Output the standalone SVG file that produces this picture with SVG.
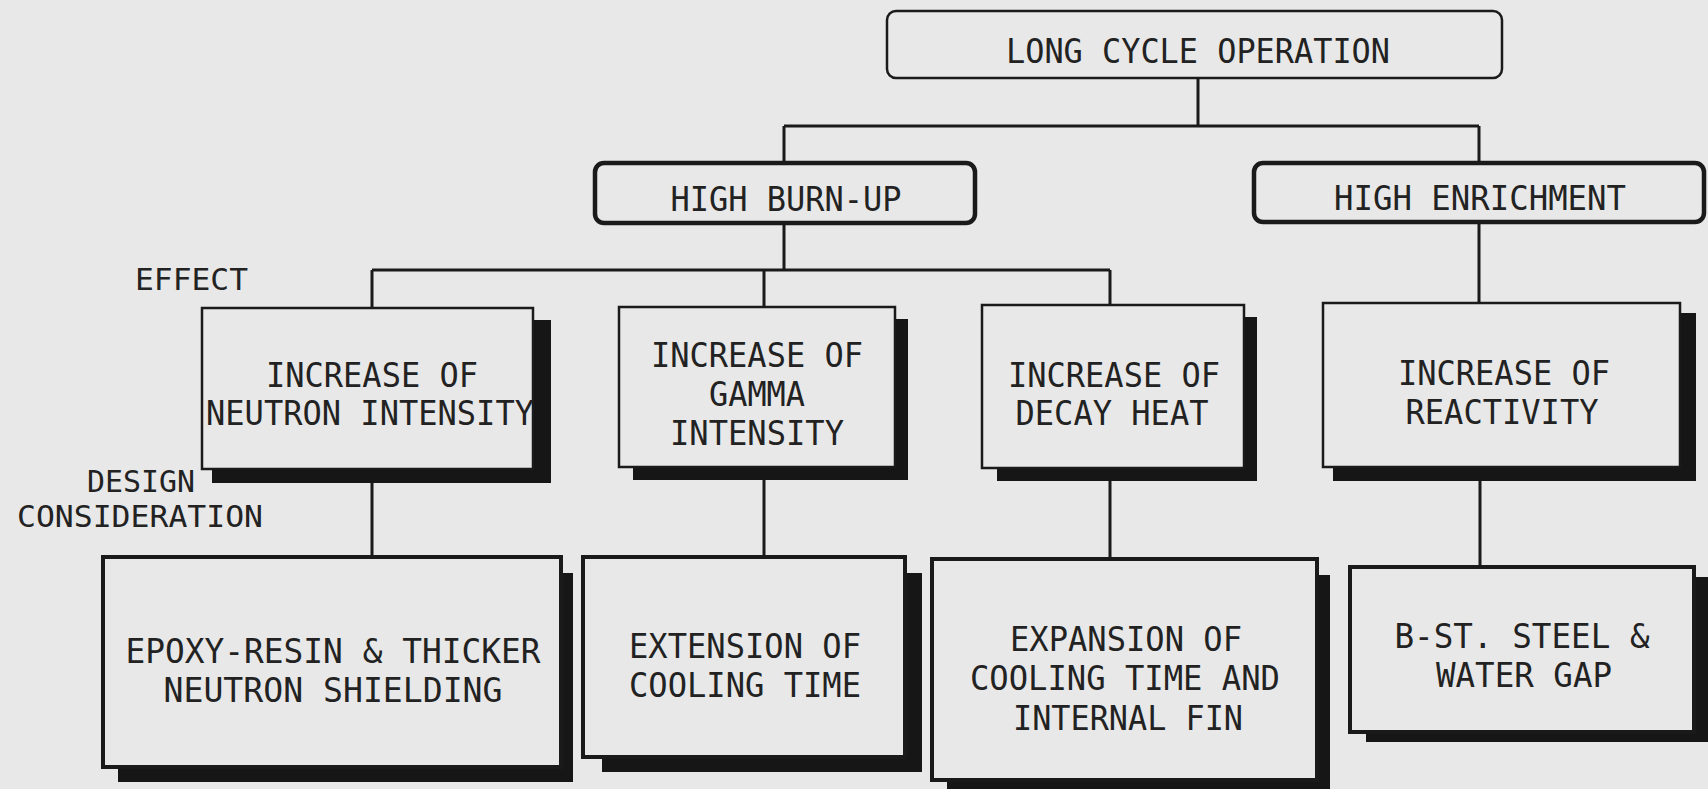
<svg xmlns="http://www.w3.org/2000/svg" width="1708" height="789" viewBox="0 0 1708 789">
<style>
.bg{fill:#e8e8e8}
.sh{fill:#161616}
.box{fill:#e8e8e8;stroke:#1a1a1a;stroke-width:2.5}
.boxb{fill:#e8e8e8;stroke:#1a1a1a;stroke-width:4}
.top{fill:#e8e8e8;stroke:#1a1a1a;stroke-width:2.5}
.mid{fill:#e8e8e8;stroke:#1a1a1a;stroke-width:4.5}
.ln{fill:none;stroke:#1a1a1a;stroke-width:3}
text{font-family:"DejaVu Sans Mono","Liberation Mono",monospace;font-size:33px;fill:#222;text-anchor:middle}
.lbl{font-size:30px;text-anchor:start}
</style>
<rect class="bg" x="0" y="0" width="1708" height="789"/>
<g id="connectors">
<path class="ln" d="M1198 78V126M784 126H1479M784 126V163M1479 126V163"/>
<path class="ln" d="M784 223V270M372 270H1110M372 270V308M764 270V307M1110 270V305"/>
<path class="ln" d="M1479 222V303"/>
<path class="ln" d="M372 483V557M764 480V557M1110 481V559M1480 481V567"/>
</g>
<g id="long-cycle">
<rect class="top" x="887" y="11" width="615" height="67" rx="9"/>
<text x="1198" y="63" font-size="38" textLength="384" lengthAdjust="spacingAndGlyphs">LONG CYCLE OPERATION</text>
</g>
<g id="high-burnup">
<rect class="mid" x="595" y="163" width="380" height="60" rx="9"/>
<text x="786" y="211" font-size="35" textLength="231" lengthAdjust="spacingAndGlyphs">HIGH BURN-UP</text>
</g>
<g id="high-enrichment">
<rect class="mid" x="1254" y="163" width="450" height="59" rx="9"/>
<text x="1480" y="210" font-size="35" textLength="292" lengthAdjust="spacingAndGlyphs">HIGH ENRICHMENT</text>
</g>
<g id="label-effect">
<text class="lbl" x="135" y="290" textLength="113" lengthAdjust="spacingAndGlyphs">EFFECT</text>
</g>
<g id="label-design">
<text class="lbl" x="87" y="492" textLength="108" lengthAdjust="spacingAndGlyphs">DESIGN</text>
<text class="lbl" x="17" y="527" textLength="246" lengthAdjust="spacingAndGlyphs">CONSIDERATION</text>
</g>
<g id="neutron-intensity">
<rect class="sh" x="212" y="320" width="339" height="163"/>
<rect class="box" x="202" y="308" width="331" height="161"/>
<text x="372" y="387" textLength="212" lengthAdjust="spacingAndGlyphs">INCREASE OF</text>
<text x="370" y="425" textLength="328" lengthAdjust="spacingAndGlyphs">NEUTRON INTENSITY</text>
</g>
<g id="gamma-intensity">
<rect class="sh" x="633" y="319" width="275" height="161"/>
<rect class="box" x="619" y="307" width="276" height="160"/>
<text x="757" y="367" textLength="212" lengthAdjust="spacingAndGlyphs">INCREASE OF</text>
<text x="757" y="406" textLength="96" lengthAdjust="spacingAndGlyphs">GAMMA</text>
<text x="757" y="445" textLength="174" lengthAdjust="spacingAndGlyphs">INTENSITY</text>
</g>
<g id="decay-heat">
<rect class="sh" x="997" y="317" width="260" height="164"/>
<rect class="box" x="982" y="305" width="262" height="163"/>
<text x="1114" y="387" textLength="212" lengthAdjust="spacingAndGlyphs">INCREASE OF</text>
<text x="1112" y="425" textLength="193" lengthAdjust="spacingAndGlyphs">DECAY HEAT</text>
</g>
<g id="reactivity">
<rect class="sh" x="1333" y="313" width="363" height="168"/>
<rect class="box" x="1323" y="303" width="357" height="164"/>
<text x="1504" y="385" textLength="212" lengthAdjust="spacingAndGlyphs">INCREASE OF</text>
<text x="1502" y="424" textLength="193" lengthAdjust="spacingAndGlyphs">REACTIVITY</text>
</g>
<g id="epoxy-resin">
<rect class="sh" x="118" y="573" width="455" height="209"/>
<rect class="boxb" x="103" y="557" width="458" height="210"/>
<text x="333" y="663" textLength="415" lengthAdjust="spacingAndGlyphs">EPOXY-RESIN &amp; THICKER</text>
<text x="333" y="702" textLength="339" lengthAdjust="spacingAndGlyphs">NEUTRON SHIELDING</text>
</g>
<g id="extension-cooling">
<rect class="sh" x="602" y="573" width="320" height="199"/>
<rect class="boxb" x="583" y="557" width="322" height="200"/>
<text x="745" y="658" textLength="232" lengthAdjust="spacingAndGlyphs">EXTENSION OF</text>
<text x="745" y="697" textLength="232" lengthAdjust="spacingAndGlyphs">COOLING TIME</text>
</g>
<g id="expansion-cooling">
<rect class="sh" x="947" y="575" width="383" height="217"/>
<rect class="boxb" x="932" y="559" width="385" height="221"/>
<text x="1126" y="651" textLength="232" lengthAdjust="spacingAndGlyphs">EXPANSION OF</text>
<text x="1125" y="690" textLength="310" lengthAdjust="spacingAndGlyphs">COOLING TIME AND</text>
<text x="1128" y="730" textLength="230" lengthAdjust="spacingAndGlyphs">INTERNAL FIN</text>
</g>
<g id="bst-steel">
<rect class="sh" x="1366" y="577" width="342" height="165"/>
<rect class="boxb" x="1350" y="567" width="344" height="165"/>
<text x="1522" y="648" textLength="255" lengthAdjust="spacingAndGlyphs">B-ST. STEEL &amp;</text>
<text x="1524" y="687" textLength="176" lengthAdjust="spacingAndGlyphs">WATER GAP</text>
</g>
</svg>
